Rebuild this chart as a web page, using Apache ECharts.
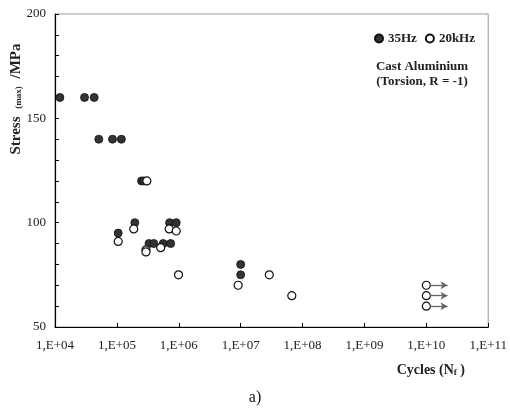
<!DOCTYPE html>
<html>
<head>
<meta charset="utf-8">
<script src="https://cdn.jsdelivr.net/npm/echarts@6/dist/echarts.min.js"></script>
<style>
html, body { margin: 0; padding: 0; background: #fff; }
#chart { width: 510px; height: 414px; }
</style>
</head>
<body>
<div id="chart"></div>
<script>
// 35Hz tests (filled markers)
const hz35Cycles = [1.2e4, 3e4, 4.3e4, 5.1e4, 8.5e4, 1.18e5, 2.5e5, 2.72e5, 1.05e5, 1.95e5, 3.3e5, 3.95e5, 5.6e5, 7.4e5, 7.1e5, 9.1e5, 1e7, 1e7];
const hz35Stress = [160, 160, 160, 140, 140, 140, 120, 120, 95, 100, 90, 90, 90, 90, 100, 100, 80, 75];
// 20kHz tests (open markers)
const khz20Cycles = [3.05e5, 1.05e5, 1.87e5, 2.95e5, 2.95e5, 5.1e5, 7.0e5, 9.1e5, 9.9e5, 9.1e6, 2.9e7, 6.7e7, 1e10, 1e10, 1e10];
const khz20Stress = [120, 91, 97, 87, 86, 88, 97, 96, 75, 70, 75, 65, 70, 65, 60];
// run-outs (arrows)
const runoutStress = [70, 65, 60];
const runoutFrom = 1.16e10;
const runoutTo = 2.2e10;

const serif = 'Liberation Serif';
const myChart = echarts.init(document.getElementById('chart'));

const pairs = (xs, ys) => xs.map((x, i) => [x, ys[i]]);

const option = {
    animation: false,
    textStyle: { fontFamily: serif },
    grid: {
        left: 55, top: 14, right: 21, bottom: 87,
        show: true, borderColor: '#999', borderWidth: 1
    },
    legend: {
        right: 30, top: 27,
        itemWidth: 8, itemHeight: 8, itemGap: 8,
        icon: 'circle',
        textStyle: { fontFamily: serif, fontWeight: 'bold', fontSize: 13, color: '#222' },
        data: ['35Hz', '20kHz']
    },
    xAxis: {
        type: 'log', logBase: 10, min: 1e4, max: 1e11,
        axisLine: { lineStyle: { color: '#000', width: 1.2 } },
        axisTick: { inside: true, length: 4, lineStyle: { color: '#000' } },
        minorTick: { show: false },
        splitLine: { show: false },
        axisLabel: {
            fontFamily: serif, fontSize: 13, color: '#222', margin: 12,
            formatter: v => {
                const e = Math.round(Math.log10(v));
                return '1,E+' + (e < 10 ? '0' + e : e);
            }
        }
    },
    yAxis: {
        type: 'value', min: 50, max: 200, interval: 10,
        axisLine: { show: true, lineStyle: { color: '#000', width: 1.2 } },
        axisTick: { show: true, inside: true, length: 4, lineStyle: { color: '#000' } },
        splitLine: { show: false },
        axisLabel: {
            fontFamily: serif, fontSize: 13, color: '#222', margin: 9,
            formatter: v => (v % 50 === 0 ? String(v) : '')
        }
    },
    series: [
        {
            name: '35Hz', type: 'scatter', symbol: 'circle', symbolSize: 8,
            itemStyle: { color: '#333', borderColor: '#111', borderWidth: 0.8, opacity: 1 },
            data: pairs(hz35Cycles, hz35Stress)
        },
        {
            name: '20kHz', type: 'scatter', symbol: 'circle', symbolSize: 8,
            itemStyle: { color: '#fff', borderColor: '#111', borderWidth: 1.2, opacity: 1 },
            data: pairs(khz20Cycles, khz20Stress),
            markLine: {
                silent: true,
                symbol: ['none', 'arrow'], symbolSize: [6, 7],
                label: { show: false },
                lineStyle: { color: '#666', width: 1.3, type: 'solid' },
                data: runoutStress.map(s => [{ coord: [runoutFrom, s] }, { coord: [runoutTo, s] }])
            }
        }
    ],
    graphic: [
        {
            type: 'text', x: 16, y: 99, rotation: Math.PI / 2,
            style: {
                text: '{a|Stress }{b|(max)}{a| /MPa}',
                align: 'center', verticalAlign: 'middle',
                rich: {
                    a: { fontFamily: serif, fontWeight: 'bold', fontSize: 15, fill: '#222' },
                    b: { fontFamily: serif, fontWeight: 'bold', fontSize: 9, fill: '#222', padding: [6, 4, 0, 4] }
                }
            }
        },
        {
            type: 'text', x: 465, y: 370,
            style: {
                text: '{a|Cycles (N}{b|f}{a| )}',
                align: 'right', verticalAlign: 'middle',
                rich: {
                    a: { fontFamily: serif, fontWeight: 'bold', fontSize: 14, fill: '#222' },
                    b: { fontFamily: serif, fontWeight: 'bold', fontSize: 9, fill: '#222', padding: [6, 0, 0, 0] }
                }
            }
        },
        {
            type: 'text', x: 422, y: 67,
            style: {
                text: 'Cast Aluminium', align: 'center', verticalAlign: 'middle',
                fontFamily: serif, fontWeight: 'bold', fontSize: 13, fill: '#222'
            }
        },
        {
            type: 'text', x: 422, y: 82,
            style: {
                text: '(Torsion, R = -1)', align: 'center', verticalAlign: 'middle',
                fontFamily: serif, fontWeight: 'bold', fontSize: 13, fill: '#222'
            }
        },
        {
            type: 'text', x: 255, y: 398,
            style: {
                text: 'a)', align: 'center', verticalAlign: 'middle',
                fontFamily: serif, fontSize: 16, fill: '#111'
            }
        }
    ]
};

myChart.setOption(option);
</script>
</body>
</html>
